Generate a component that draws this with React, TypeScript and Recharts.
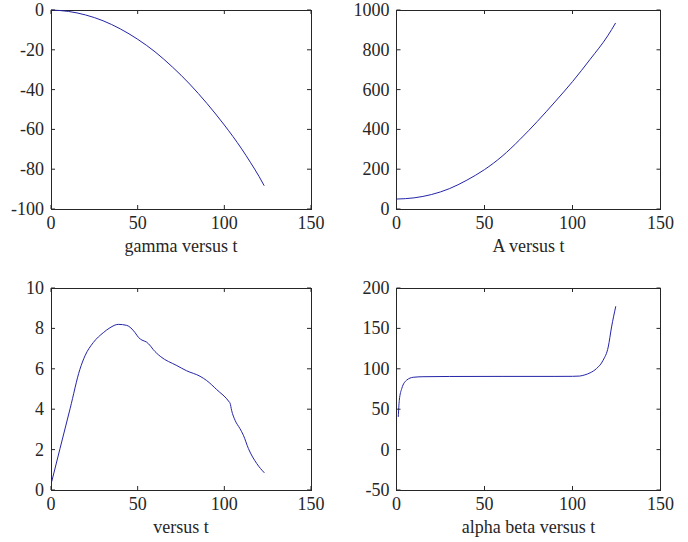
import React from 'react';
import { LineChart, Line, XAxis, YAxis, ReferenceArea } from 'recharts';

// ---- data ----
const X_TICKS = [0, 50, 100, 150];

const T_GAMMA = [0, 10, 20, 30, 40, 50, 60, 70, 80, 90, 100, 110, 115, 120, 123];
const GAMMA = [0, -0.7, -2.5, -5.4, -9.5, -14.7, -21.0, -28.6, -37.2, -47.0, -57.8, -69.8, -76.5, -83.6, -88.3];
const GAMMA_TICKS = [-100, -80, -60, -40, -20, 0];

const T_A = [0, 10, 20, 30, 40, 50, 60, 70, 80, 90, 100, 110, 120, 124.5];
const A_VALUES = [50, 56, 73, 102, 145, 198, 265, 348, 440, 538, 640, 752, 870, 935];
const A_TICKS = [0, 200, 400, 600, 800, 1000];

const T_V = [0.4, 5.2, 11, 16.7, 19.6, 24.4, 30.2, 34, 38.8, 43.7, 48.5, 50.5, 52.5, 55, 57.5, 59, 63, 72.6, 78.3, 86, 89.8, 95.6, 102.9, 103.3, 104.2, 106.2, 109, 111, 113.9, 118.7, 123.1];
const V_VALUES = [0.41, 2.05, 4.02, 5.98, 6.64, 7.3, 7.79, 8.03, 8.2, 8.15, 7.79, 7.55, 7.42, 7.33, 7.12, 6.95, 6.62, 6.16, 5.9, 5.63, 5.42, 4.97, 4.35, 4.3, 3.94, 3.45, 3.04, 2.71, 2.05, 1.31, 0.85];
const V_TICKS = [0, 2, 4, 6, 8, 10];

const T_AB = [1.0, 1.6, 3, 5.8, 9.5, 15, 30, 60, 90, 100, 104, 107, 110, 113.7, 117.4, 120.3, 122.2, 124.6];
const AB_VALUES = [40.5, 61, 75.6, 86, 89.5, 90.2, 90.5, 90.6, 90.6, 90.7, 91, 92.5, 95, 100.4, 110.6, 127, 151.8, 177.4];
const AB_TICKS = [-50, 0, 50, 100, 150, 200];

const zip = (ts: number[], vs: number[]) => ts.map((t, i) => ({ t, v: vs[i] }));

// ---- styling ----
const FONT = '"Liberation Serif", "Times New Roman", Times, "DejaVu Serif", "Noto Serif", serif';
const FS = 18;
const INK = '#262626';
const LINE = '#2424a8';
const TICK = 4;
const Y_W = 50;
const X_H = 50;
const CW = 344;
const CH = 271;
const TEXT_STYLE = { fontFamily: FONT, fontSize: FS };

const makeXTick = (plotH: number) => (props: any) => {
  const { x, y, payload } = props;
  return (
    <g>
      <line x1={x} y1={y} x2={x} y2={y - TICK} stroke={INK} strokeWidth={1} />
      <line x1={x} y1={y - plotH} x2={x} y2={y - plotH + TICK} stroke={INK} strokeWidth={1} />
      <text x={x} y={y + 20} textAnchor="middle" style={TEXT_STYLE} fill={INK}>
        {payload.value}
      </text>
    </g>
  );
};

const makeYTick = (plotW: number) => (props: any) => {
  const { x, y, payload } = props;
  return (
    <g>
      <line x1={x} y1={y} x2={x + TICK} y2={y} stroke={INK} strokeWidth={1} />
      <line x1={x + plotW} y1={y} x2={x + plotW - TICK} y2={y} stroke={INK} strokeWidth={1} />
      <text x={x - 7} y={y + 6} textAnchor="end" style={TEXT_STYLE} fill={INK}>
        {payload.value}
      </text>
    </g>
  );
};

type SubProps = {
  left: number;
  top: number;
  plotLeft: number;
  plotTop: number;
  plotW: number;
  plotH: number;
  data: { t: number; v: number }[];
  yTicks: number[];
  label: string;
};

function Subplot({ left, top, plotLeft, plotTop, plotW, plotH, data, yTicks, label }: SubProps) {
  const yMin = yTicks[0];
  const yMax = yTicks[yTicks.length - 1];
  const margin = {
    top: plotTop,
    left: plotLeft - Y_W,
    right: CW - plotLeft - plotW,
    bottom: CH - plotTop - plotH - X_H,
  };
  return (
    <div style={{ position: 'absolute', left, top, width: CW, height: CH }}>
      <LineChart width={CW} height={CH} data={data} margin={margin} style={{ fontFamily: FONT }}>
        <XAxis
          dataKey="t"
          type="number"
          domain={[0, 150]}
          ticks={X_TICKS}
          interval={0}
          height={X_H}
          tickSize={0}
          tickMargin={0}
          axisLine={false}
          tickLine={false}
          tick={makeXTick(plotH)}
          label={{
            value: label,
            position: 'insideBottom',
            offset: 7,
            fill: INK,
            style: TEXT_STYLE,
          }}
        />
        <YAxis
          dataKey="v"
          type="number"
          domain={[yMin, yMax]}
          ticks={yTicks}
          interval={0}
          width={Y_W}
          tickSize={0}
          tickMargin={0}
          axisLine={false}
          tickLine={false}
          tick={makeYTick(plotW)}
        />
        <ReferenceArea
          x1={0}
          x2={150}
          y1={yMin}
          y2={yMax}
          fill="none"
          fillOpacity={0}
          stroke={INK}
          strokeWidth={1}
          strokeOpacity={1}
          shapeRendering="crispEdges"
        />
        <Line
          type="monotone"
          dataKey="v"
          stroke={LINE}
          strokeWidth={1}
          dot={false}
          isAnimationActive={false}
        />
      </LineChart>
    </div>
  );
}

export default function App() {
  return (
    <div style={{ position: 'absolute', left: 0, top: 0, width: 688, height: 542, background: '#fff', overflow: 'hidden', fontFamily: FONT }}>
      <Subplot left={0} top={0} plotLeft={51} plotTop={10} plotW={260} plotH={199} data={zip(T_GAMMA, GAMMA)} yTicks={GAMMA_TICKS} label="gamma versus t" />
      <Subplot left={344} top={0} plotLeft={52.5} plotTop={10} plotW={264} plotH={199} data={zip(T_A, A_VALUES)} yTicks={A_TICKS} label="A versus t" />
      <Subplot left={0} top={271} plotLeft={51} plotTop={17} plotW={260} plotH={202} data={zip(T_V, V_VALUES)} yTicks={V_TICKS} label=" versus t" />
      <Subplot left={344} top={271} plotLeft={52.5} plotTop={17} plotW={264} plotH={202} data={zip(T_AB, AB_VALUES)} yTicks={AB_TICKS} label="alpha beta versus t" />
    </div>
  );
}
